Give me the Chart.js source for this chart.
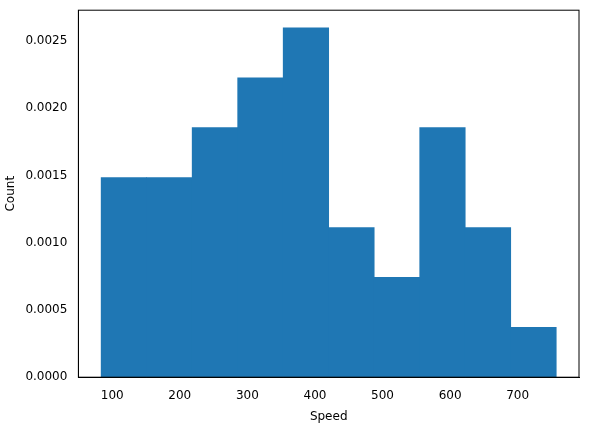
<!DOCTYPE html>
<html><head><script src="https://cdn.jsdelivr.net/npm/chart.js@4"></script>
<style>body{margin:0;background:#fff}#w{width:593px;height:432px}</style></head>
<body><div id="w"><canvas id="c"></canvas></div>
<script>
const binStart = 83.6;
const binWidth = 67.35;
const counts = [4,4,5,6,7,3,2,5,3,1];
const total = 40;
const xTicks = [100,200,300,400,500,600,700];
const yTicks = [0,0.0005,0.001,0.0015,0.002,0.0025];
const data = counts.map((c,i)=>({x: binStart + binWidth*(i+0.5), y: c/(total*binWidth)}));
const lo = binStart, hi = binStart + binWidth*counts.length, m = (hi-lo)*0.05;
new Chart(document.getElementById('c'), {
  type:'bar',
  data:{datasets:[{data, backgroundColor:'#1f77b4', barPercentage:1, categoryPercentage:1, borderWidth:0}]},
  options:{animation:false, responsive:true, maintainAspectRatio:false,
    layout:{padding:{left:0,right:14,top:10,bottom:4}},
    plugins:{legend:{display:false}, tooltip:{enabled:false}},
    scales:{
      x:{type:'linear', min:lo-m, max:hi+m, offset:false, grid:{display:false, drawTicks:true},
        border:{color:'#000'},
        afterBuildTicks:a=>{a.ticks=xTicks.map(v=>({value:v}))},
        ticks:{color:'#000',font:{family:'DejaVu Sans',size:12}, maxRotation:0},
        title:{display:true,text:'Speed',color:'#000',font:{family:'DejaVu Sans',size:12}}},
      y:{min:0, max:0.0026*1.05, grid:{display:false}, border:{color:'#000'},
        afterBuildTicks:a=>{a.ticks=yTicks.map(v=>({value:v}))},
        ticks:{color:'#000',font:{family:'DejaVu Sans',size:12}, callback:v=>v.toFixed(4)},
        title:{display:true,text:'Count',color:'#000',font:{family:'DejaVu Sans',size:12}}}
    }},
  plugins:[{id:'box',afterDraw(c){const a=c.chartArea,x=c.ctx;x.save();x.strokeStyle='#000';x.lineWidth=1;x.strokeRect(a.left,a.top,a.right-a.left,a.bottom-a.top);x.restore();}}]
});
</script></body></html>
